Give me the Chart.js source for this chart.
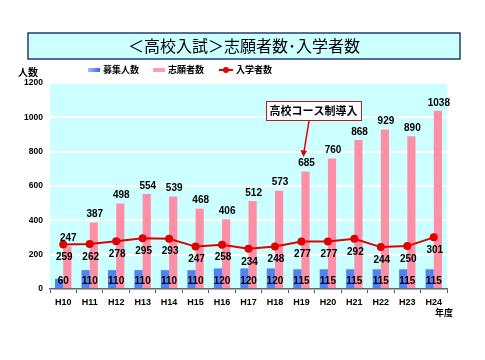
<!DOCTYPE html>
<html lang="ja">
<head>
    <meta charset="UTF-8">
    <title>高校入試 志願者数・入学者数</title>
    <script src="https://cdn.jsdelivr.net/npm/chart.js"></script>
    <style>
        body { margin: 0; background: #ffffff; }
        #grafico { display: block; }
    </style>
</head>
<body>
    <canvas id="grafico" width="485" height="360"></canvas>

    <script>
        // Datos
        const nendo = ['H10', 'H11', 'H12', 'H13', 'H14', 'H15', 'H16', 'H17', 'H18', 'H19', 'H20', 'H21', 'H22', 'H23', 'H24'];
        const boshu = [60, 110, 110, 110, 110, 110, 120, 120, 120, 115, 115, 115, 115, 115, 115];
        const shigan = [247, 387, 498, 554, 539, 468, 406, 512, 573, 685, 760, 868, 929, 890, 1038];
        const nyugaku = [259, 262, 278, 295, 293, 247, 258, 234, 248, 277, 277, 292, 244, 250, 301];
        const yTicks = [0, 200, 400, 600, 800, 1000, 1200];

        const titulo = '＜高校入試＞志願者数･入学者数';
        const nota = '高校コース制導入';
        const fuenteJp = '"Noto Sans CJK JP", sans-serif';
        const fuenteNum = '"Liberation Sans", Arial, sans-serif';

        // Fondo del área del gráfico
        const fondoPlugin = {
            id: 'fondo',
            beforeDraw(chart) {
                const { ctx, chartArea: a } = chart;
                ctx.save();
                ctx.fillStyle = '#ccffff';
                ctx.fillRect(a.left, a.top, a.right - a.left, a.bottom - a.top);
                ctx.restore();
            }
        };

        // Etiquetas de valores
        const etiquetasPlugin = {
            id: 'etiquetas',
            afterDatasetsDraw(chart) {
                const { ctx, chartArea: a, scales } = chart;
                ctx.save();
                ctx.font = 'bold 10px ' + fuenteNum;
                ctx.fillStyle = '#000';
                ctx.textAlign = 'center';
                ctx.textBaseline = 'middle';
                const mPink = chart.getDatasetMeta(1);
                const mLine = chart.getDatasetMeta(2);
                nendo.forEach((n, i) => {
                    const cx = scales.x.getPixelForValue(i);
                    ctx.fillText(String(boshu[i]), cx, a.bottom - 8);
                    const p = mPink.data[i];
                    ctx.fillText(String(shigan[i]), p.x + 1, p.y - 8);
                    const l = mLine.data[i];
                    ctx.fillText(String(nyugaku[i]), l.x + 1, l.y + 13);
                });
                ctx.restore();
            }
        };

        // Título, leyenda, nota y textos sueltos
        const adornosPlugin = {
            id: 'adornos',
            afterDraw(chart) {
                const { ctx, scales } = chart;
                ctx.save();
                // título
                ctx.fillStyle = '#ccffff';
                ctx.fillRect(28, 33, 432, 26);
                ctx.strokeStyle = '#203c78';
                ctx.lineWidth = 1.5;
                ctx.strokeRect(28, 33, 432, 26);
                ctx.fillStyle = '#000';
                ctx.font = '16px ' + fuenteJp;
                ctx.textAlign = 'center';
                ctx.textBaseline = 'middle';
                ctx.fillText(titulo, 244, 46);

                // leyenda
                ctx.font = 'bold 9px ' + fuenteJp;
                ctx.textAlign = 'left';
                let g = ctx.createLinearGradient(88, 0, 100, 0);
                g.addColorStop(0, '#9ec0ff');
                g.addColorStop(1, '#3565ee');
                ctx.fillStyle = g;
                ctx.fillRect(88, 68, 12, 4);
                ctx.fillStyle = '#ff9db0';
                ctx.fillRect(153, 68, 12, 4);
                ctx.strokeStyle = '#e00000';
                ctx.lineWidth = 2;
                ctx.beginPath();
                ctx.moveTo(219, 70);
                ctx.lineTo(233, 70);
                ctx.stroke();
                ctx.fillStyle = '#e00000';
                ctx.beginPath();
                ctx.arc(226, 70, 3, 0, Math.PI * 2);
                ctx.fill();
                ctx.fillStyle = '#000';
                ctx.fillText('募集人数', 103, 70);
                ctx.fillText('志願者数', 168, 70);
                ctx.fillText('入学者数', 236, 70);

                // ejes
                ctx.font = 'bold 10px ' + fuenteJp;
                ctx.fillText('人数', 18, 72);
                ctx.font = 'bold 9px ' + fuenteJp;
                ctx.textAlign = 'center';
                ctx.fillText('年度', 444, 313);

                // nota con flecha
                ctx.fillStyle = '#ffffff';
                ctx.fillRect(266, 101, 95, 19);
                ctx.strokeStyle = '#b02020';
                ctx.lineWidth = 1;
                ctx.strokeRect(266.5, 101.5, 95, 19);
                ctx.fillStyle = '#000';
                ctx.font = 'bold 11px ' + fuenteJp;
                ctx.fillText(nota, 313.5, 111);
                const tx = scales.x.getPixelForValue(9) + 2;
                ctx.strokeStyle = '#dd0000';
                ctx.fillStyle = '#dd0000';
                ctx.lineWidth = 1.5;
                ctx.beginPath();
                ctx.moveTo(309, 121);
                ctx.lineTo(tx + 0.5, 152);
                ctx.stroke();
                ctx.beginPath();
                ctx.moveTo(tx, 157);
                ctx.lineTo(tx - 3, 150);
                ctx.lineTo(tx + 3.5, 151);
                ctx.closePath();
                ctx.fill();
                ctx.restore();
            }
        };

        new Chart(document.getElementById('grafico'), {
            type: 'bar',
            data: {
                labels: nendo,
                datasets: [
                    {
                        label: '募集人数',
                        data: boshu,
                        backgroundColor: '#5282f2',
                        borderWidth: 0,
                        categoryPercentage: 0.62,
                        barPercentage: 1,
                        order: 2
                    },
                    {
                        label: '志願者数',
                        data: shigan,
                        backgroundColor: '#ff8fa6',
                        borderWidth: 0,
                        categoryPercentage: 0.62,
                        barPercentage: 1,
                        order: 2
                    },
                    {
                        type: 'line',
                        label: '入学者数',
                        data: nyugaku,
                        borderColor: '#e00000',
                        backgroundColor: '#e00000',
                        borderWidth: 2,
                        pointRadius: 4,
                        pointBackgroundColor: '#e00000',
                        pointBorderWidth: 0,
                        tension: 0,
                        order: 1
                    }
                ]
            },
            options: {
                responsive: false,
                animation: false,
                layout: { padding: { top: 83, left: 0, right: 38, bottom: 0 } },
                plugins: {
                    legend: { display: false },
                    tooltip: { enabled: false }
                },
                scales: {
                    x: {
                        afterFit(scale) { scale.height = 71; },
                        grid: { display: true, drawOnChartArea: false, drawTicks: true, tickLength: 4, color: '#555', offset: true },
                        border: { color: '#666', width: 1.5 },
                        ticks: { color: '#000', font: { family: fuenteNum, size: 9, weight: 'bold' }, padding: 4 }
                    },
                    y: {
                        min: 0,
                        max: 1200,
                        afterFit(scale) { scale.width = 50; },
                        afterBuildTicks(scale) { scale.ticks = yTicks.map(v => ({ value: v })); },
                        grid: { color: '#ffffff', lineWidth: 2, drawTicks: false },
                        border: { display: false },
                        ticks: {
                            color: '#000',
                            font: { family: fuenteNum, size: 8.5, weight: 'bold' },
                            padding: 7,
                            callback: v => String(v)
                        }
                    }
                }
            },
            plugins: [fondoPlugin, etiquetasPlugin, adornosPlugin]
        });
    </script>
</body>
</html>
